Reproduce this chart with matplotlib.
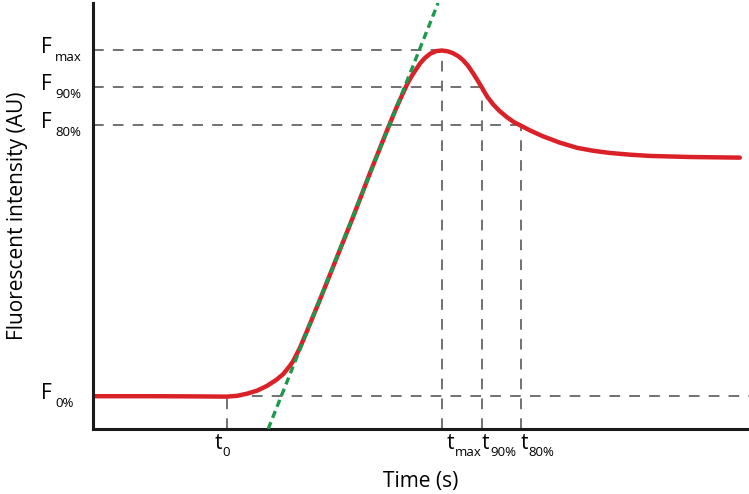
import matplotlib.pyplot as plt
import matplotlib.transforms as mtransforms

plt.rcParams['font.family'] = ['Open Sans', 'DejaVu Sans']

# red response curve (time 0-100, intensity 0-100)
time = [0, 8.7, 16.3, 20.4, 22.0, 23.5, 25.0, 26.5, 28.0, 29.0, 30.0, 30.5, 31.0,
        31.5, 32.0, 32.6, 34.5, 37.1, 39.7, 42.2, 44.8, 46.3, 47.3, 48.0, 48.8,
        49.9, 50.6, 51.4, 52.3, 53.2, 54.1, 54.9, 55.7, 56.4, 57.2, 57.9, 58.6,
        59.3, 60.1, 61.0, 62.0, 63.1, 64.1, 65.1, 66.6, 68.6, 71.2, 73.8, 76.3,
        78.8, 81.8, 84.9, 91.0, 98.6]
intensity = [7.7, 7.7, 7.65, 7.6, 7.8, 8.3, 9.0, 10.1, 11.6, 12.9, 14.8, 15.9, 17.4,
             18.9, 20.7, 22.9, 30.0, 40.0, 50.0, 60.0, 70.0, 75.6, 79.0, 81.3, 83.4,
             85.9, 87.1, 88.1, 88.7, 88.85, 88.65, 88.2, 87.5, 86.6, 85.2, 83.6, 81.9,
             80.1, 78.0, 76.2, 74.6, 73.2, 72.1, 71.3, 70.1, 68.7, 67.2, 66.0, 65.3,
             64.8, 64.4, 64.1, 63.85, 63.7]

# tangent at the steepest rise
tangent_x = [26.7, 52.6]
tangent_y = [0, 100]

# characteristic levels and times
f_levels = [88.85, 80.3, 71.4, 7.7]
f_names = ['max', '90%', '80%', '0%']
t_marks = [20.4, 53.2, 59.3, 65.2]
t_names = ['0', 'max', '90%', '80%']
t_levels = [7.7, 88.85, 80.3, 71.4]
f_ends = [53.2, 59.3, 65.2, 100]

fig = plt.figure(figsize=(7.49, 4.94), dpi=100)
ax = fig.add_axes([93/749, 65/494, 656/749, 426/494])
ax.set_xlim(0, 100)
ax.set_ylim(0, 100)

grey = '#4a4a4a'
for lev, end in zip(f_levels, f_ends):
    ax.plot([0, end], [lev, lev], color=grey, lw=1.1, dashes=(7, 6), zorder=1)
for tm, lev in zip(t_marks, t_levels):
    ax.plot([tm, tm], [0, lev], color=grey, lw=1.1, dashes=(7, 6), zorder=1)

ax.plot(time, intensity, color='#da2128', lw=3.2, solid_capstyle='round',
        solid_joinstyle='round', zorder=2)
ax.plot(tangent_x, tangent_y, color='#1a9a4c', lw=2.4, dashes=(2.2, 1.4), zorder=3)

for s in ['top', 'right']:
    ax.spines[s].set_visible(False)
for s in ['left', 'bottom']:
    ax.spines[s].set_linewidth(2.2)
    ax.spines[s].set_color('#1a1a1a')
ax.set_xticks([])
ax.set_yticks([])


def shifted(base, dx, dy):
    # shift in pixels (dpi 100)
    return base + mtransforms.ScaledTranslation(dx / 100, dy / 100, fig.dpi_scale_trans)


# F labels on the left
trans_f = mtransforms.blended_transform_factory(fig.transFigure, ax.transData)
for lev, name in zip(f_levels, f_names):
    ax.text(41/749, lev, 'F', transform=shifted(trans_f, 0, -3),
            fontsize=15, ha='left', va='baseline', clip_on=False)
    ax.text(41/749, lev, name, transform=shifted(trans_f, 14, -11),
            fontsize=9.5, ha='left', va='baseline', clip_on=False)

# t labels under the axis
trans_t = mtransforms.blended_transform_factory(ax.transData, fig.transFigure)
t_shift = [-12, 5, 0, 0]
for tm, name, sh in zip(t_marks, t_names, t_shift):
    ax.text(tm, 1 - 449/494, 't', transform=shifted(trans_t, sh, 0),
            fontsize=15, ha='left', va='baseline', clip_on=False)
    ax.text(tm, 1 - 449/494, name, transform=shifted(trans_t, sh + 8, -7),
            fontsize=9.5, ha='left', va='baseline', clip_on=False)

fig.text(421/749, 1 - 487/494, 'Time (s)', fontsize=15, ha='center', va='baseline')
fig.text(18/749, 1 - 216/494, 'Fluorescent intensity (AU)', fontsize=15,
         rotation=90, ha='center', va='center')

fig.savefig('out.png', dpi=100)
